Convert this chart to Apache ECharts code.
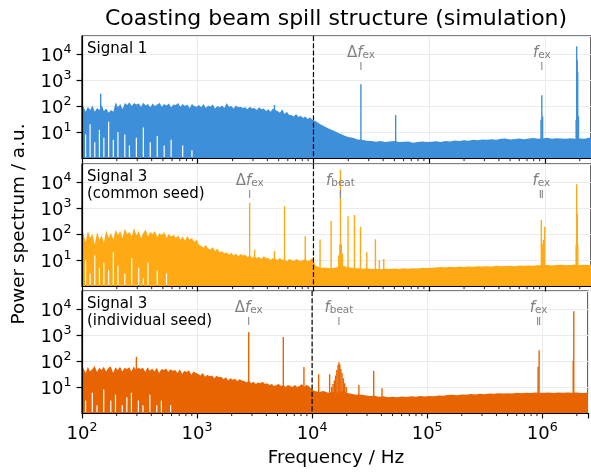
<!DOCTYPE html>
<html><head><meta charset="utf-8">
<script src="https://cdn.jsdelivr.net/npm/echarts@6/dist/echarts.min.js"></script>
<style>html,body{margin:0;padding:0;background:#fff}#c{width:591px;height:472px}</style>
</head><body><div id="c"></div>
<script>
// ---------- data ----------
const freqEdges = [
100,105,110,115,120,126,132,138,145,151,158,166,174,182,191,200,209,219,229,240,251,263,275,288,302,316,331,347,363,380,398,417,437,457,479,501,525,550,575,603,631,661,692,724,759,794,832,871,912,955,
1000,1047,1096,1148,1202,1259,1318,1380,1445,1514,1585,1660,1738,1820,1905,1995,2089,2188,2291,2399,2512,2630,2754,2884,3020,3162,3311,3467,3631,3802,3981,4169,4365,4571,4786,5012,5248,5495,5754,6026,6310,6607,6918,7244,7586,7943,8318,8710,9120,9550,
10000,10960,12020,13180,14450,15850,17380,19050,20890,22910,25120,27540,30200,33110,36310,39810,43650,47860,52480,57540,63100,69180,75860,83180,91200,
100000,109600,120200,131800,144500,158500,173800,190500,208900,229100,251200,275400,302000,331100,363100,398100,436500,478600,524800,575400,631000,691800,758600,831800,912000,
1000000,1096000,1202000,1318000,1445000,1585000,1738000,1905000,2089000,2291000,2512000];

// Signal 1: noise envelope top / bottom (holes) per frequency bin
const hi1 = [
100,60,95,70,105,60,85,70,110,65, 80,55,70,60,140,90,120,75,130,110,
140,100,130,115,125,95,135,105,120,90, 125,100,115,130,95,120,105,125,90,115,
110,130,95,120,100,115,85,120,100,95, 110,90,120,85,105,95,115,80,100,90,
105,85,130,95,100,80,105,90,95,85, 90,75,95,80,85,70,90,75,80,65,
75,60,80,70,65,55,75,50,60,45, 45,40,50,38,42,35,40,32,36,30,
26,20,16,13,11,9,7.5,6.5,6,5.2, 5,4.6,4.5,4.2,4.5,4.1,4.3,4.5,4.1,4.2, 4.3,3.9,4.1,4.3,4.1,
4.2,4.4,4.1,4.5,4.3,4.7,4.5,4.8,4.6,5, 4.8,5.2,5,5.3,5.1,5.5,5.7,5.2,5.4,5.6, 5.3,5.7,5.9,5.5,5.6,
6,5.5,5.8,5.6,5.5,5.8,5.5,5.7,5.5,6];
const lo1 = [1,8,1,20,1,4,1,12,1,6, 1,25,1,5,1,10,1,1,8,1, 3,1,1,6,1,1,15,1,1,4, 1,1,7,1,1,3,1,1,5,1, 1,1,1,3,1,1,1,2,1,1];
const peaks1 = [[145,300],[4600,110],[25700,700],[51300,45],[925000,30],[940000,260],[955000,40],
  [1860000,30],[1880000,20000],[1900000,6000],[1920000,2000],[1950000,40]];

// Signal 3 (common seed)
const hi2 = [
110,50,130,70,100,40,120,60,90,45, 140,70,110,60,150,90,130,70,160,100,
120,80,170,90,130,70,110,150,80,120, 100,130,75,110,90,120,70,100,80,95,
70,90,60,80,55,85,60,70,50,60, 40,35,30,38,28,25,32,22,28,20,
22,18,20,16,19,15,18,14,17,15, 16,13,15,12,14,12,13,11,14,12,
12,10,12,11,10,12,10,11,9,11, 10,9,11,10,9,10,11,9,10,12,
6,5,5.2,4.8,5,5.5,6,5.2,5,4.8, 4.6,4.8,4.5,4.6,4.4,4.6,4.5,4.7,4.5,4.8, 4.6,4.8,4.7,5,4.9,
5,5.2,5.4,5.2,5.5,5.3,5.6,5.4,5.6,5.5, 5.8,5.6,5.8,5.7,6,5.8,5.9,6,5.8,6.1, 6,6.2,6,6.3,6.5,
6.5,6.2,6.4,6.6,6.3,6.5,6.8,6.4,6.6,6.5];
const lo2 = [1,10,1,3,1,15,1,5,1,8, 1,4,1,20,1,6,1,1,3,1, 1,12,1,1,5,1,2,1,8,1, 1,1,4,1,1,1,3,1,1,1];
const peaks2 = [[2810,1600],[3100,25],[4600,22],[5620,1200],[8490,83],[11400,62],[14200,316],
  [16500,15],[16900,40],[17100,30000],[17400,40],[17800,18],[19900,490],[22600,540],[25500,190],
  [28900,20],[34300,63],[37100,10],[40500,11],[931000,350],[950000,40],[970000,60],[996000,190],
  [1860000,40],[1880000,8300],[1900000,600],[1920000,40]];

// Signal 3 (individual seed)
const hi3 = [
55,35,60,40,50,65,38,55,45,60, 40,55,62,35,58,45,60,40,55,50,
58,40,62,45,55,50,55,38,58,42, 52,40,55,35,50,45,52,38,48,42,
45,35,48,32,42,38,44,30,40,35, 32,28,35,25,30,26,28,22,27,24,
25,20,24,18,22,19,21,17,20,18, 17,15,18,14,16,13,15,14,16,13,
14,12,13,11,12,13,11,12,10,12, 11,10,12,10,11,13,10,12,11,9,
7,6.5,7,6,6.5,6,7,6,5.5,5, 5.2,4.8,4.5,4.6,4.2,4.4,4,4.2,4,4.3, 4.1,4.4,4.2,4.5,4.3,
4.5,4.4,4.7,4.6,4.9,5,4.8,5.2,5,5.4, 5.2,5.5,5.3,5.6,5.5,5.8,5.6,5.8,5.7,6, 5.8,6,5.9,6.1,6,
6,6.2,5.9,6.1,6,6.2,6,6.1,5.9,6];
const lo3 = [1,3,1,1,6,1,2,1,1,8, 1,1,3,1,5,1,1,2,1,4, 1,6,1,1,3,1,2,1,1,5, 1,1,2,1,3,1,1,1,2,1];
const peaks3 = [[297,145],[2810,1300],[5620,850],[8490,59],[11400,31],[14200,31],
  [14800,10],[15200,13],[15600,18],[16000,28],[16400,45],[16800,70],[17100,91],[17400,75],
  [17800,50],[18200,35],[18700,22],[19200,14],[19800,10],[25500,12],[34300,42],[40500,9],
  [920000,60],[940000,260],[1860000,100],[1880000,8300]];

const minorTicks = [200,300,400,500,600,700,800,900,2000,3000,4000,5000,6000,7000,8000,9000,
  20000,30000,40000,50000,60000,70000,80000,90000,200000,300000,400000,500000,600000,700000,800000,900000,2000000];
const yTickValues = [10,100,1000,10000];

const panelTexts = ['Signal 1', 'Signal 3\n(common seed)', 'Signal 3\n(individual seed)'];
const annotFreq = [[25700, 940000], [2810, 17100, 930000], [2810, 17100, 930000]];
const annotText = [['dfex','fex'], ['dfex','fbeat','fex'], ['dfex','fbeat','fex']];
const annotTicks = [[25700, 940000], [2810, 17100, 912000, 949000], [2810, 17100, 912000, 949000]];
const vlineFreq = 10000;

// ---------- styling ----------
const colors = ['#3e8fda', '#ffa915', '#e86400'];
const FONT = 'DejaVu Sans';
const xmin = 100, xmax = 2.5e6, ymin = 1, ymax = 5e4;
const tops = [36, 164, 291];
const GH = 122, GL = 82, GW = 510;

const his = [hi1, hi2, hi3], los = [lo1, lo2, lo3];
const peaks = [peaks1, peaks2, peaks3];

function bandRenderer(g) {
  return function (params, api) {
    const hi = his[g], lo = los[g], n = hi.length;
    const pts = [];
    pts.push(api.coord([freqEdges[0], ymin]));
    pts.push(api.coord([freqEdges[0], hi[0]]));
    const cx = [];
    for (let i = 0; i < n; i++) {
      const fc = Math.sqrt(freqEdges[i] * freqEdges[i + 1]);
      const p = api.coord([fc, hi[i]]);
      cx.push(p[0]);
      pts.push(p);
    }
    pts.push(api.coord([freqEdges[n], hi[n - 1]]));
    const bottomRight = api.coord([freqEdges[n], ymin]);
    pts.push(bottomRight);
    const yb = bottomRight[1];
    for (let i = n - 1; i >= 0; i--) {
      if (i < lo.length && lo[i] > ymin) {
        const yl = api.coord([freqEdges[i], lo[i]])[1];
        pts.push([cx[i] + 0.6, yb], [cx[i] + 0.6, yl], [cx[i] - 0.6, yl], [cx[i] - 0.6, yb]);
      }
    }
    return {type: 'polygon', shape: {points: pts}, style: {fill: colors[g]}};
  };
}
function peakRenderer(color) {
  return function (params, api) {
    const t = api.coord([api.value(0), api.value(1)]), bt = api.coord([api.value(0), ymin]);
    return {type: 'rect', shape: {x: t[0] - 0.7, y: t[1], width: 1.4, height: bt[1] - t[1]}, style: {fill: color}};
  };
}
function vlineRenderer(params, api) {
  const t = api.coord([api.value(0), ymax]), b = api.coord([api.value(0), ymin]);
  return {type: 'line', shape: {x1: t[0], y1: t[1], x2: b[0], y2: b[1]},
    style: {stroke: '#000', lineWidth: 1.2, lineDash: [5, 2.2]}};
}
function minorRenderer(params, api) {
  const p = api.coord([api.value(0), ymin]);
  return {type: 'line', shape: {x1: p[0], y1: p[1], x2: p[0], y2: p[1] + 3.1}, style: {stroke: '#000', lineWidth: 0.9}};
}
function tickMarkRenderer(params, api) {
  const p = api.coord([api.value(0), ymin]);
  const top = params.coordSys.y;
  return {type: 'line', shape: {x1: p[0], y1: top + 26, x2: p[0], y2: top + 34}, style: {stroke: '#888', lineWidth: 1.1}};
}
const annRich = {
  d: {fontSize: 15, fontFamily: FONT, lineHeight: 20, verticalAlign: 'bottom', color: '#808080'},
  i: {fontSize: 15, fontFamily: FONT, fontStyle: 'italic', lineHeight: 20, verticalAlign: 'bottom', color: '#808080'},
  s: {fontSize: 10.5, fontFamily: FONT, lineHeight: 10.5, verticalAlign: 'bottom', color: '#808080'}
};
const annFmt = {dfex: '{d|Δ}{i|f}{s|ex}', fex: '{i|f}{s|ex}', fbeat: '{i|f}{s|beat}'};
function annRenderer(g) {
  return function (params, api) {
    const p = api.coord([api.value(0), ymin]);
    const top = params.coordSys.y;
    return {type: 'text', x: p[0], y: top + 25,
      style: {text: annFmt[annotText[g][params.dataIndex]], rich: annRich, align: 'center', verticalAlign: 'bottom', fill: '#808080'}};
  };
}

function supFmt(v) {
  const e = Math.round(Math.log10(v));
  if (Math.abs(Math.pow(10, e) - v) > 1e-6 * v) return '';
  return '{b|10}{s|' + e + '}';
}
const supRich = {
  b: {fontSize: 18, fontFamily: FONT, lineHeight: 22, verticalAlign: 'bottom', color: '#000'},
  s: {fontSize: 12.6, fontFamily: FONT, lineHeight: 13, verticalAlign: 'top', color: '#000'}
};

const grid = [], xAxis = [], yAxis = [], series = [];
for (let g = 0; g < 3; g++) {
  grid.push({left: GL, top: tops[g], width: GW, height: GH, show: true, borderColor: '#000', borderWidth: 1.2, backgroundColor: 'transparent'});
  xAxis.push({type: 'log', logBase: 10, gridIndex: g, min: xmin, max: xmax, z: 0,
    axisLine: {show: false}, axisTick: {show: false}, axisLabel: {show: false},
    splitLine: {show: true, lineStyle: {color: '#ebebeb', width: 1}}});
  xAxis.push({type: 'log', logBase: 10, gridIndex: g, min: xmin, max: xmax, z: 10, position: 'bottom',
    axisLine: {show: true, onZero: false, lineStyle: {color: '#000', width: 1.2}},
    axisTick: {show: true, length: 5.4, lineStyle: {color: '#000', width: 1.2}},
    axisLabel: {show: g === 2, margin: 8, formatter: supFmt, rich: supRich},
    splitLine: {show: false}});
  yAxis.push({type: 'log', logBase: 10, gridIndex: g, min: ymin, max: ymax, z: 0,
    axisLine: {show: false}, axisTick: {show: false}, axisLabel: {show: false},
    splitLine: {show: true, lineStyle: {color: '#ebebeb', width: 1}}});
  yAxis.push({type: 'log', logBase: 10, gridIndex: g, min: ymin, max: ymax, z: 10, position: 'left',
    axisLine: {show: true, onZero: false, lineStyle: {color: '#000', width: 1.2}},
    axisTick: {show: true, length: 5.4, lineStyle: {color: '#000', width: 1.2}, customValues: yTickValues},
    axisLabel: {show: true, margin: 10.5, formatter: supFmt, rich: supRich, customValues: yTickValues},
    splitLine: {show: false}});
  const xi = 2 * g, yi = 2 * g;
  series.push({type: 'custom', xAxisIndex: xi, yAxisIndex: yi, clip: true, z: 2, silent: true,
    data: [[freqEdges[0], ymin]], renderItem: bandRenderer(g)});
  series.push({type: 'custom', xAxisIndex: xi, yAxisIndex: yi, clip: true, z: 3, silent: true,
    data: peaks[g], renderItem: peakRenderer(colors[g])});
  series.push({type: 'custom', xAxisIndex: xi, yAxisIndex: yi, clip: true, z: 4, silent: true,
    data: [[vlineFreq]], renderItem: vlineRenderer});
  series.push({type: 'custom', xAxisIndex: xi, yAxisIndex: yi, clip: false, z: 5, silent: true,
    data: annotTicks[g].map(f => [f]), renderItem: tickMarkRenderer});
  series.push({type: 'custom', xAxisIndex: xi, yAxisIndex: yi, clip: false, z: 5, silent: true,
    data: annotFreq[g].map(f => [f]), renderItem: annRenderer(g)});
  series.push({type: 'custom', xAxisIndex: xi + 1, yAxisIndex: yi + 1, clip: false, z: 12, silent: true,
    data: minorTicks.map(f => [f]), renderItem: minorRenderer});
}

const graphic = [
  {type: 'text', x: 336, y: 19, style: {text: 'Coasting beam spill structure (simulation)', font: '22px "DejaVu Sans"', fill: '#000', align: 'center', verticalAlign: 'middle'}},
  {type: 'text', x: 336, y: 458.6, style: {text: 'Frequency / Hz', font: '18.4px "DejaVu Sans"', fill: '#000', align: 'center', verticalAlign: 'middle'}},
  {type: 'text', x: 19, y: 224, rotation: Math.PI / 2, style: {text: 'Power spectrum / a.u.', font: '18.4px "DejaVu Sans"', fill: '#000', align: 'center', verticalAlign: 'middle'}}
];
for (let g = 0; g < 3; g++) {
  graphic.push({type: 'text', x: 87, y: tops[g] + 4.2, z: 20,
    style: {text: panelTexts[g], font: '15px "DejaVu Sans"', lineHeight: 17.3, fill: '#000', align: 'left', verticalAlign: 'top'}});
}

const chart = echarts.init(document.getElementById('c'), null, {renderer: 'canvas'});
chart.setOption({
  animation: false,
  backgroundColor: '#fff',
  textStyle: {fontFamily: FONT},
  grid, xAxis, yAxis, series, graphic
});
</script></body></html>
